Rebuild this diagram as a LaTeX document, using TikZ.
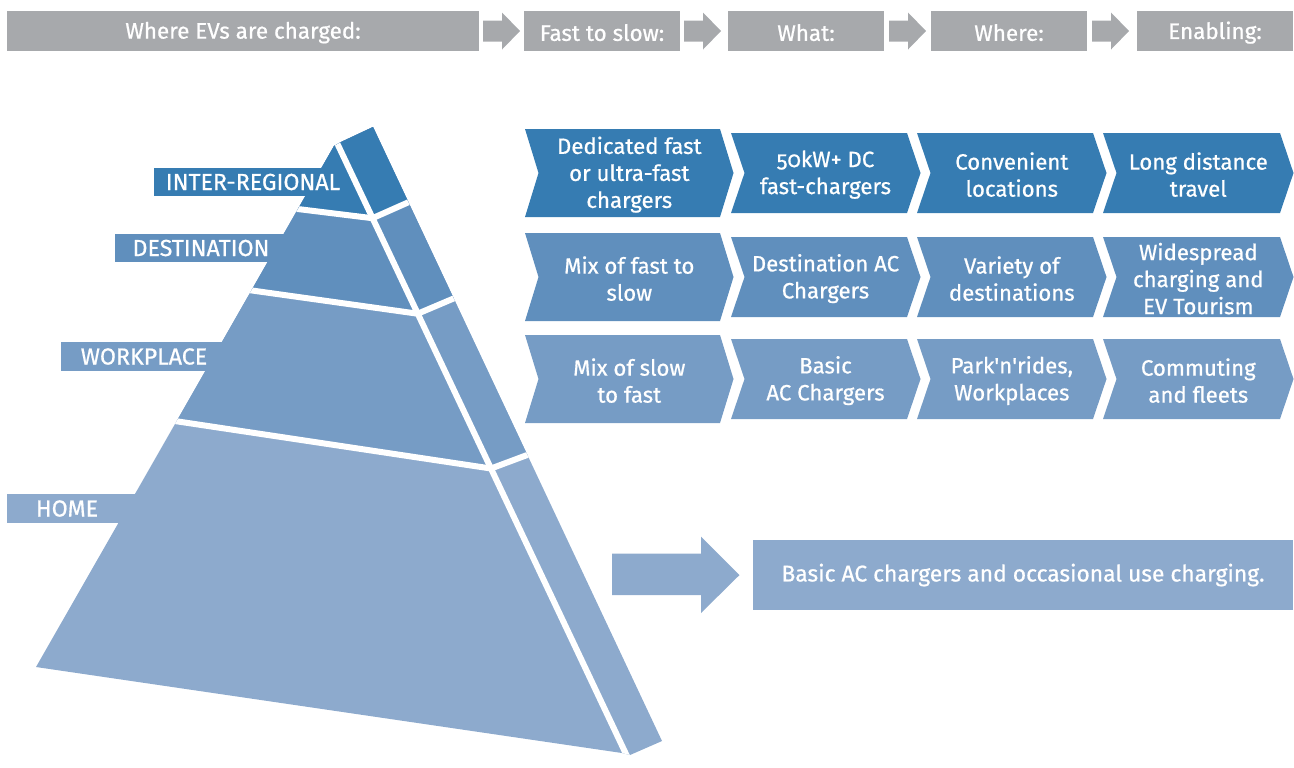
\documentclass[tikz,border=0pt]{standalone}
\usepackage{fontspec}
\setmainfont{Fira Sans}[Numbers=OldStyle,FakeBold=0.7]
\definecolor{cInter}{RGB}{54,124,178}
\definecolor{cDest}{RGB}{96,143,189}
\definecolor{cWork}{RGB}{118,156,197}
\definecolor{cHome}{RGB}{141,170,205}
\definecolor{cGray}{RGB}{167,169,172}
\newcommand\chevshape[5]{%
  \fill[#1] (#2,#4-#5) -- (#3,#4-#5) -- (#3+13.5,#4) -- (#3,#4+#5) -- (#2,#4+#5) -- (#2+13.5,#4) -- cycle;}
\newcommand\toparrow[1]{%
  \fill[cGray] (#1,20.5) -- (#1+19,20.5) -- (#1+19,12.5) -- (#1+37,31) -- (#1+19,49.5) -- (#1+19,41.5) -- (#1,41.5) -- cycle;}
\begin{document}
\begin{tikzpicture}[x=0.5pt,y=-0.5pt,
  topbox/.style={fill=cGray,inner sep=0pt,text=white,minimum height=20pt,font=\fontsize{11.2}{13}\selectfont},
  toptext/.style={inner sep=0pt,text=white,font=\fontsize{11.2}{13}\selectfont,yshift=-0.8pt},
  chevtext/.style={inner sep=0pt,text=white,align=center,font=\fontsize{11.1}{13.5}\selectfont,yshift=-0.8pt},
  levellabel/.style={inner sep=0pt,text=white,font=\fontsize{11.6}{13}\selectfont},
  gapline/.style={white,line width=3pt,line join=miter}]
\useasboundingbox (0,0) rectangle (1294,767);
% ---------- top bar
\fill[cGray] (7,11) rectangle (479,51);
\fill[cGray] (524,11) rectangle (680,51);
\fill[cGray] (728,11) rectangle (884,51);
\fill[cGray] (931,11) rectangle (1087,51);
\fill[cGray] (1137,11) rectangle (1293,51);
\node[toptext] (t1) at (243,31) {Where EVs are charged:};
\node[toptext] (t2) at (602,31) {Fast to slow:};
\node[toptext] (t3) at (806,31) {What:};
\node[toptext] (t4) at (1009,31) {Where:};
\node[toptext] (t5) at (1215,31) {Enabling:};
\toparrow{483}
\toparrow{684}
\toparrow{889}
\toparrow{1092}
% ---------- pyramid
\begin{scope}
  \clip (334,146) -- (341,142) -- (373,127) -- (662,741) -- (630,755) -- (622,753) -- (36,667) -- cycle;
  \fill[cHome] (0,0) rectangle (700,767);
  \fill[cWork] (0,0) -- (700,0) -- (700,390.5) -- (491,468.5) -- (0,394.75) -- cycle;
  \fill[cDest] (0,0) -- (700,0) -- (700,194) -- (417.7,313.7) -- (0,255.2) -- cycle;
  \fill[cInter] (0,0) -- (700,0) -- (700,72.8) -- (372.5,218.2) -- (0,172.4) -- cycle;
  \draw[gapline] (0,172.4) -- (372.5,218.2) -- (700,72.8);
  \draw[gapline] (0,255.2) -- (417.7,313.7) -- (700,194);
  \draw[gapline] (0,394.75) -- (491,468.5) -- (700,390.5);
  \draw[gapline] (332.8,134) -- (630.7,764);
\end{scope}
% ---------- level labels
\fill[cInter] (154,168) rectangle (342,196);
\node[levellabel] (lInter) at (253,182) {INTER-REGIONAL};
\fill[cDest] (115,234) rectangle (288,262);
\node[levellabel] (lDest) at (201,248) {DESTINATION};
\fill[cWork] (61,342) rectangle (226,371);
\node[levellabel] (lWork) at (144,356.5) {WORKPLACE};
\fill[cHome] (7,494) rectangle (140,523);
\node[levellabel] (lHome) at (67,508.5) {HOME};
% ---------- chevrons row 1
\chevshape{cInter}{525}{720}{173}{44}
\chevshape{cInter}{731}{907}{173}{40}
\chevshape{cInter}{917}{1093}{173}{40}
\chevshape{cInter}{1103}{1280}{173}{40}
\node[chevtext] (a1) at (629.3,173) {Dedicated fast\\or ultra-fast\\chargers};
\node[chevtext] (a2) at (825.5,173) {50kW+ DC\\fast-chargers};
\node[chevtext] (a3) at (1011.8,173) {Convenient\\locations};
\node[chevtext] (a4) at (1198.3,173) {Long distance\\travel};
% ---------- chevrons row 2
\chevshape{cDest}{525}{720}{277}{44}
\chevshape{cDest}{731}{907}{277}{40}
\chevshape{cDest}{917}{1093}{277}{40}
\chevshape{cDest}{1103}{1280}{277}{40}
\node[chevtext] (b1) at (629.3,277) {Mix of fast to\\slow};
\node[chevtext] (b2) at (825.5,277) {Destination AC\\Chargers};
\node[chevtext] (b3) at (1011.8,277) {Variety of\\destinations};
\node[chevtext] (b4) at (1198.3,277) {Widespread\\charging and\\EV Tourism};
% ---------- chevrons row 3
\chevshape{cWork}{525}{720}{379}{44}
\chevshape{cWork}{731}{907}{379}{40}
\chevshape{cWork}{917}{1093}{379}{40}
\chevshape{cWork}{1103}{1280}{379}{40}
\node[chevtext] (c1) at (629.3,379) {Mix of slow\\to fast};
\node[chevtext] (c2) at (825.5,379) {Basic\\AC Chargers};
\node[chevtext] (c3) at (1011.8,379) {Park\textquotesingle n\textquotesingle rides,\\Workplaces};
\node[chevtext] (c4) at (1198.3,379) {Commuting\\and fleets};
% ---------- home arrow and box
\fill[cHome] (612,553.5) -- (701,553.5) -- (701,536.5) -- (739.5,575) -- (701,613) -- (701,595) -- (612,595) -- cycle;
\fill[cHome] (753,540) rectangle (1293,610);
\node[inner sep=0pt,text=white,font=\fontsize{11.4}{13}\selectfont] (hbox) at (1023,575) {Basic AC chargers and occasional use charging.};
\end{tikzpicture}
\end{document}
